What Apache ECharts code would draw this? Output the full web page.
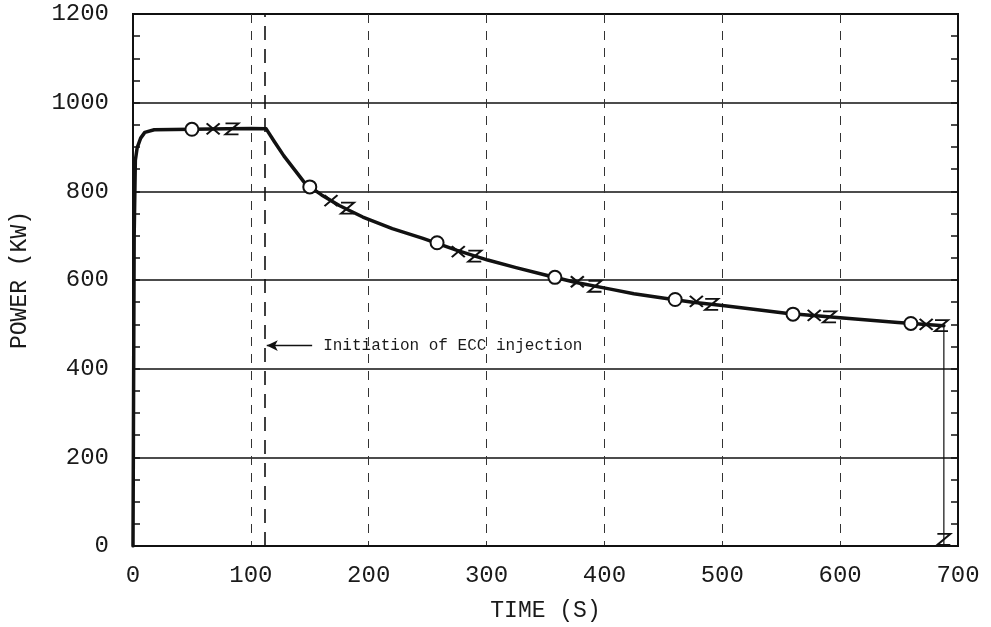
<!DOCTYPE html>
<html>
<head>
<meta charset="utf-8">
<script src="https://cdn.jsdelivr.net/npm/echarts@6/dist/echarts.min.js"></script>
<style>
  html, body { margin: 0; padding: 0; background: #fff; }
  #chart { width: 991px; height: 627px; }
</style>
</head>
<body>
<div id="chart"></div>
<script>
// Core power history during the ECC injection test
const timeS   = [0, 1, 2, 3.5, 6.5, 10, 18, 50, 80, 100, 113, 120, 128, 137, 146, 160, 175, 195, 220, 246, 275, 301, 325, 349, 375, 404, 425, 451, 475, 502, 530, 554, 600, 649, 688];
const powerKW = [0, 700, 870, 898, 920, 933, 939, 940, 941, 942, 941, 912, 880, 849, 818, 792, 768, 742, 716, 694, 667, 645, 628, 612, 595, 580, 569, 559, 550, 542, 533, 525, 515, 504, 497];

// Plotter symbols laid on the curve
const circleT = [50, 150, 258, 358, 460, 560, 660];
const circleP = [940, 810, 684, 606, 556, 523, 502];
const crossT  = [68, 168, 276, 377, 478, 578, 673];
const crossP  = [941, 779, 664, 596, 552, 520, 500];
const zedT    = [84, 182, 290, 392, 491, 591, 686];
const zedP    = [941, 762, 654, 586, 545, 517, 497];

// End-of-run drop line and its symbol at the axis
const endT = 688;
const endP = 497;
const endMarkP = 15;

// ECC injection start and its annotation
const eccTime = 112;
const noteP = 452;
const noteEndT = 152;
const noteText = 'Initiation of ECC injection';

// Axis ticks
const xTicks = [0, 100, 200, 300, 400, 500, 600, 700];
const yTicks = [0, 200, 400, 600, 800, 1000, 1200];

const FONT = '"Liberation Mono", "DejaVu Sans Mono", monospace';
const INK = '#111';
const plain = v => String(v);

const pairs = (xs, ys) => xs.map((x, i) => [x, ys[i]]);

const chart = echarts.init(document.getElementById('chart'), null, { renderer: 'canvas' });

chart.setOption({
  backgroundColor: '#fff',
  animation: false,
  grid: { left: 126, right: 33, top: 14, bottom: 71, show: true, borderColor: INK, borderWidth: 2, backgroundColor: 'transparent' },
  xAxis: {
    type: 'value',
    min: xTicks[0], max: xTicks[xTicks.length - 1], interval: 100,
    name: 'TIME (S)', nameLocation: 'middle', nameGap: 53,
    nameTextStyle: { fontFamily: FONT, fontSize: 23, color: '#1a1a1a' },
    axisLine: { show: true, lineStyle: { color: INK, width: 2 } },
    axisTick: { show: false },
    axisLabel: { fontFamily: FONT, fontSize: 24, color: '#1a1a1a', margin: 18, formatter: plain },
    splitLine: { show: true, lineStyle: { color: '#333', width: 1, type: [9, 8] } }
  },
  yAxis: [{
    type: 'value',
    min: yTicks[0], max: yTicks[yTicks.length - 1], interval: 200,
    name: 'POWER (KW)', nameLocation: 'middle', nameGap: 102, nameRotate: 90,
    nameTextStyle: { fontFamily: FONT, fontSize: 23, color: '#1a1a1a' },
    axisLine: { show: true, lineStyle: { color: INK, width: 2 } },
    axisTick: { show: true, inside: true, length: 7, lineStyle: { color: INK, width: 1.5 } },
    minorTick: { show: true, splitNumber: 4, length: 7, lineStyle: { color: INK, width: 1.5 } },
    axisLabel: { fontFamily: FONT, fontSize: 24, color: '#1a1a1a', margin: 24, formatter: plain },
    splitLine: { show: true, lineStyle: { color: INK, width: 1.6 } }
  }, {
    type: 'value', position: 'right',
    min: yTicks[0], max: yTicks[yTicks.length - 1], interval: 200,
    axisLine: { show: true, lineStyle: { color: INK, width: 2 } },
    axisTick: { show: true, inside: true, length: 7, lineStyle: { color: INK, width: 1.5 } },
    minorTick: { show: true, splitNumber: 4, length: 7, lineStyle: { color: INK, width: 1.5 } },
    axisLabel: { show: false },
    splitLine: { show: false }
  }],
  series: [
    {
      name: 'power', type: 'line', data: pairs(timeS, powerKW),
      symbol: 'none', smooth: false,
      lineStyle: { color: INK, width: 3.5, join: 'round', cap: 'round' },
      z: 3,
      markLine: {
        silent: true, animation: false,
        symbol: ['none', 'none'],
        data: [
          [
            { coord: [eccTime, yTicks[0]], lineStyle: { color: INK, width: 1.6, type: [14, 9] }, label: { show: false } },
            { coord: [eccTime, yTicks[yTicks.length - 1]] }
          ],
          [
            { coord: [eccTime + 1.5, noteP], symbol: 'arrow', symbolSize: [8, 11],
              lineStyle: { color: INK, width: 1.4, type: 'solid' },
              label: { show: true, position: 'end', formatter: noteText, distance: 11,
                       fontFamily: FONT, fontSize: 16, color: '#1a1a1a' } },
            { coord: [noteEndT, noteP], symbol: 'none' }
          ]
        ]
      }
    },
    {
      name: 'drop', type: 'line', data: [[endT, endP], [endT, 0]],
      symbol: 'none', lineStyle: { color: INK, width: 1.2 }, z: 3
    },
    {
      name: 'circle', type: 'scatter', data: pairs(circleT, circleP),
      symbol: 'circle', symbolSize: 13,
      itemStyle: { color: '#fff', borderColor: INK, borderWidth: 2, opacity: 1 }, z: 5
    },
    {
      name: 'cross', type: 'scatter', data: pairs(crossT, crossP),
      symbol: 'path://M0,0L10,10M10,0L0,10', symbolSize: [13, 11],
      itemStyle: { color: 'rgba(0,0,0,0)', borderColor: INK, borderWidth: 2, opacity: 1 }, z: 5
    },
    {
      name: 'zed', type: 'scatter', data: pairs(zedT, zedP).concat([[endT, endMarkP]]),
      symbol: 'path://M0,0L10,0L0,10L10,10', symbolSize: [13, 11],
      itemStyle: { color: 'rgba(0,0,0,0)', borderColor: INK, borderWidth: 2, opacity: 1 }, z: 5
    }
  ]
});
</script>
</body>
</html>
